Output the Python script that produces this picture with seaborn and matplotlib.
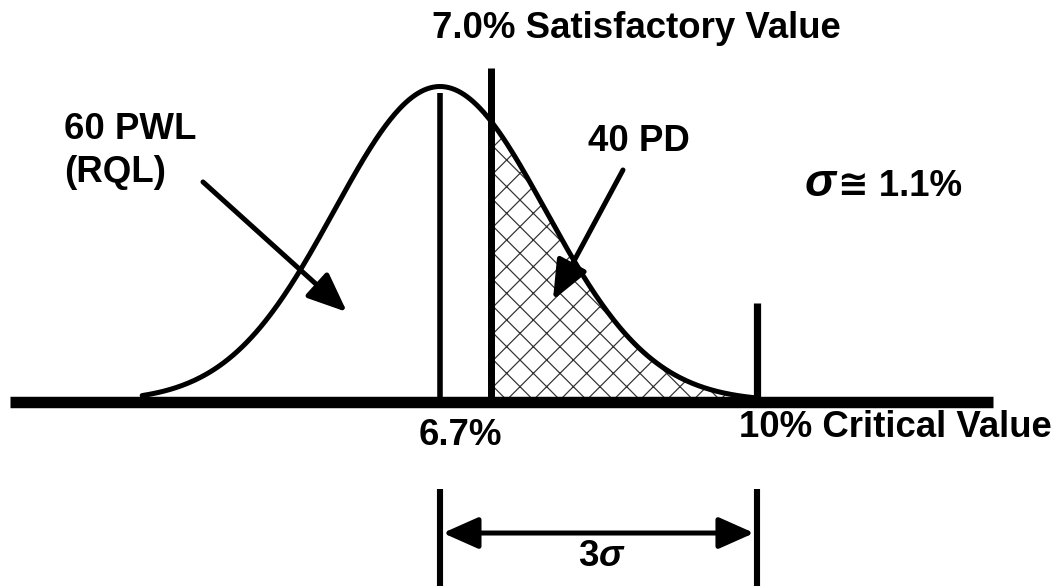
#! /usr/bin/env python3
'''
Normal curve sketch: 60 PWL (RQL) vs 40 PD, with satisfactory and critical values
'''
# imports
import matplotlib
matplotlib.use('Agg')
from matplotlib import rcParams
import matplotlib.pyplot as plt
import numpy as np
import seaborn as sns

# data
mean_pct = 6.7                # centre of the curve (RQL)
sigma_pct = 1.1               # sigma
sat_value = 7.0               # satisfactory value (label)
sat_line = 7.23               # where the sketch draws it (not to scale in source)
crit_value = 10.0             # critical value
curve_start = 3.6             # left tail meets the baseline
labels_top = "7.0% Satisfactory Value"
label_left = ["60 PWL", "(RQL)"]
label_pd = "40 PD"
label_sigma = ["σ", "≅ 1.1%"]
label_mean = "6.7%"
label_crit = "10% Critical Value"
label_span = r"3$\sigma$"

# settings
sns.set_style("white")
rcParams['font.family'] = ['Liberation Sans', 'DejaVu Sans']
rcParams['font.weight'] = 'bold'
rcParams['text.color'] = 'black'
rcParams['mathtext.fontset'] = 'custom'
rcParams['mathtext.rm'] = 'Liberation Sans:bold'
rcParams['mathtext.it'] = 'Liberation Sans:italic'
rcParams['hatch.linewidth'] = 1.1
FS = 33

# curve
x = np.linspace(curve_start, crit_value, 400)
y = np.exp(-0.5 * ((x - mean_pct) / sigma_pct) ** 2)
xf = np.linspace(sat_line, crit_value, 300)
yf = np.exp(-0.5 * ((xf - mean_pct) / sigma_pct) ** 2)

fig = plt.figure(figsize=(1059 / 80, 586 / 80), dpi=80)
ax = fig.add_axes([0, 0, 1, 1])
ax.set_xlim(2.120, 13.144)
ax.set_ylim(-0.5857, 1.2746)
ax.axis('off')

ax.fill_between(xf, 0, yf, facecolor='white', edgecolor='#333333', hatch='x', linewidth=0, zorder=1)
sns.lineplot(x=x, y=y, ax=ax, color='black', lw=4.5, zorder=3)

# baseline and vertical markers
ax.plot([2.224, 12.457], [0, 0], color='black', lw=10.3, solid_capstyle='butt', zorder=4)
ax.plot([mean_pct, mean_pct], [0, 0.979], color='black', lw=5, solid_capstyle='butt', zorder=2)
ax.plot([sat_line, sat_line], [0, 1.059], color='black', lw=6.3, solid_capstyle='butt', zorder=4)
ax.plot([crit_value, crit_value], [0, 0.314], color='black', lw=6.5, solid_capstyle='butt', zorder=4)
for xv in [mean_pct, crit_value]:
    ax.plot([xv, xv], [-0.278, -0.5857], color='black', lw=5.5, solid_capstyle='butt', zorder=4)

# arrows
arrow = dict(arrowstyle='-|>,head_length=1.0,head_width=0.42', color='black', lw=4.5,
             mutation_scale=30, shrinkA=0, shrinkB=0)
ax.annotate('', xy=(5.732, 0.284), xytext=(4.233, 0.697), arrowprops=arrow)
ax.annotate('', xy=(7.876, 0.322), xytext=(8.605, 0.735), arrowprops=arrow)
span = dict(arrowstyle='<|-|>,head_length=0.9,head_width=0.4', color='black', lw=4.5,
            mutation_scale=30, shrinkA=0, shrinkB=0)
ax.annotate('', xy=(crit_value - 0.03, -0.4175), xytext=(mean_pct + 0.03, -0.4175), arrowprops=span)

# text
ax.text(8.746, 1.154, labels_top, fontsize=FS, ha='center', va='baseline')
ax.text(2.786, 0.833, label_left[0], fontsize=FS, ha='left', va='baseline')
ax.text(2.786, 0.697, label_left[1], fontsize=FS, ha='left', va='baseline')
ax.text(8.772, 0.795, label_pd, fontsize=FS, ha='center', va='baseline')
ax.text(10.815, 0.652, label_sigma[0], fontsize=42, style='italic', ha='right', va='baseline')
ax.text(10.843, 0.652, label_sigma[1], fontsize=FS, ha='left', va='baseline')
ax.text(6.908, -0.138, label_mean, fontsize=FS, ha='center', va='baseline')
ax.text(11.437, -0.1127, label_crit, fontsize=FS, ha='center', va='baseline')
ax.text(8.386, -0.522, label_span, fontsize=FS, ha='center', va='baseline')

fig.savefig('out.png', dpi=80)
plt.close()
